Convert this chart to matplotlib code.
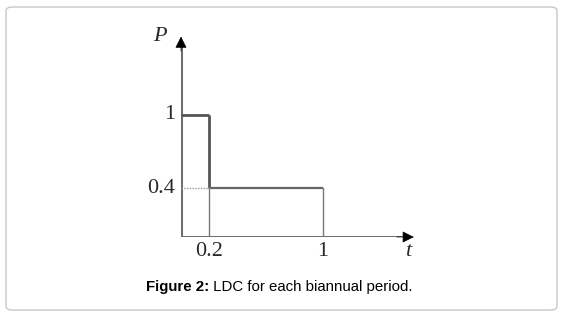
import matplotlib
matplotlib.use("Agg")
import matplotlib.pyplot as plt
from matplotlib.patches import FancyBboxPatch

# load duration curve: step breakpoints and power levels
t_breaks = [0.0, 0.2, 1.0]
p_levels = [1.0, 0.4]
x_ticks = [0.2, 1.0]
x_labels = ["0.2", "1"]
y_ticks = [1.0, 0.4]
y_labels = ["1", "0.4"]
caption_bold = "Figure 2:"
caption_rest = " LDC for each biannual period."

W, H = 563, 316
fig = plt.figure(figsize=(W / 100, H / 100), dpi=100)

# rounded frame around the whole figure
frame = FancyBboxPatch((6 / W, 6 / H), 551 / W, 303 / H,
                       boxstyle="round,pad=0,rounding_size=0.012",
                       transform=fig.transFigure, fill=False,
                       edgecolor="#c8c8c8", linewidth=1.0)
fig.patches.append(frame)

ax = fig.add_axes([181 / W, 79 / H, 230 / W, 198 / H])
ax.set_xlim(0, 1.62)
ax.set_ylim(0, 1.62)
ax.axis("off")

serif = "Liberation Serif"
grey = "#6e6e6e"
txt = "#2a2a2a"

# axes lines (grey) with black arrowheads
ax.plot([0, 1.56], [0, 0], color=grey, lw=2.2, solid_capstyle="butt")
ax.plot([0, 0], [0, 1.56], color=grey, lw=2.2, solid_capstyle="butt")
for start, end in [((1.52, 0), (1.64, 0)), ((0, 1.52), (0, 1.64))]:
    ax.annotate("", xy=end, xytext=start,
                arrowprops=dict(arrowstyle="-|>", lw=0.5,
                                mutation_scale=18, shrinkA=0, shrinkB=0,
                                fc="black", ec="black"),
                annotation_clip=False)

# step curve
t0, t1, t2 = t_breaks
p_hi, p_lo = p_levels
ax.plot([t0, t1], [p_hi, p_hi], color="#555555", lw=2.0, solid_capstyle="butt")
ax.plot([t1, t1], [p_hi, p_lo], color="#555555", lw=2.0, solid_capstyle="butt")
ax.plot([t1, t2], [p_lo, p_lo], color="#666666", lw=1.6, solid_capstyle="butt")
ax.plot([t2, t2], [p_lo, 0], color="#777777", lw=1.0)
ax.plot([t1, t1], [p_lo, 0], color="#777777", lw=1.0)
ax.plot([t0, t1], [p_lo, p_lo], color="#999999", lw=1.0, ls=(0, (1, 1)))

for xv, lab in zip(x_ticks, x_labels):
    ax.text(xv, -0.04, lab, ha="center", va="top", fontsize=16,
            family=serif, color=txt)
for yv, lab in zip(y_ticks, y_labels):
    ax.text(-0.04, yv, lab, ha="right", va="center", fontsize=16,
            family=serif, color=txt)

ax.text(-0.15, 1.64, "P", ha="center", va="center", fontsize=16,
        family=serif, style="italic", color=txt)
ax.text(1.6, -0.04, "t", ha="center", va="top", fontsize=16,
        family=serif, style="italic", color=txt)

# caption with bold prefix
cap_y = 1 - 287 / H
t_b = fig.text(146 / W, cap_y, caption_bold, ha="left", va="center",
               fontsize=10.8, fontweight="bold", family="Liberation Sans")
fig.canvas.draw()
bb = t_b.get_window_extent()
fig.text(bb.x1 / W, cap_y, caption_rest, ha="left", va="center",
         fontsize=10.8, family="Liberation Sans")

fig.savefig("out.png", dpi=100)
